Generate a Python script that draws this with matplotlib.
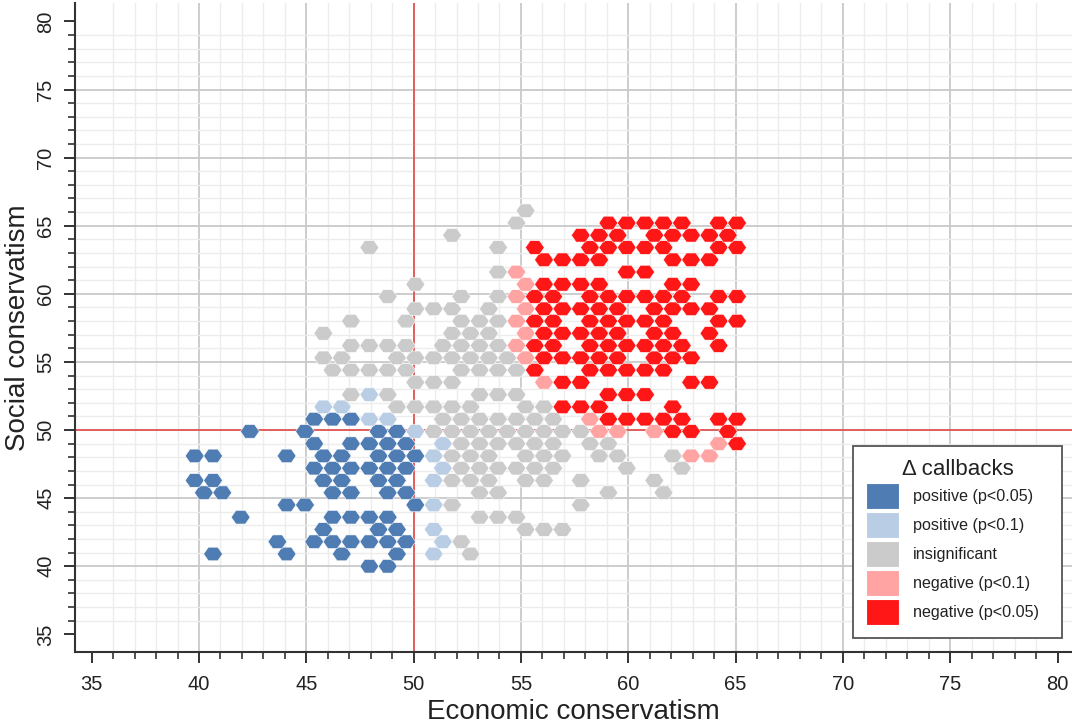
import matplotlib.pyplot as plt
from matplotlib.patches import Patch

plt.rcParams['font.family'] = ['Liberation Sans', 'DejaVu Sans']

# hex lattice: row k sits at y = y_first + k*row_step,
# column j at x = x_first + j*col_step (even rows shifted by half a step)
y_first = 40.0
row_step = 0.9
x_first = 39.80
col_step = 0.8566

# one string per row, bottom row first; B/L/G/P/R = category, '.' = empty
hex_rows = [
    ".........B" + "B........." + "..........",   # k=0
    ".B...B..B." + ".B.L.G...." + "..........",   # k=1
    "....B.BBBB" + "BB.LG....." + "..........",   # k=2
    ".......B.." + "BB.L....GG" + "G.........",   # k=3
    "..B....BBB" + "B....GGG.." + "..........",   # k=4
    ".....BB..." + "..BLG....." + ".G........",   # k=5
    "BB.....BB." + "BB...GG..." + "..G..G....",   # k=6
    "BB.....BB." + "BB.LGGG.GG" + ".G...G....",   # k=7
    "......BBBB" + "BB.LGGGGGG" + "...G..G...",   # k=8
    "BB...B.BB." + "BBBLGGG.GG" + "G.GG..GPP.",   # k=9
    "......B.BB" + "BB.LGGGGGG" + ".GG.....PR",   # k=10
    "...B..B..." + "BBLGGGGGGG" + "GGPP.PRR.R",   # k=11
    "......BBBL" + "L..GGGGGGG" + ".PRRRRR.RR",   # k=12
    ".......LL." + ".GGGGG..GG" + "RRR...R...",   # k=13
    "........GL" + "G....GGG.." + "..RRR.....",   # k=14
    ".........." + "..GGG....P" + "RR.....RR.",   # k=15
    ".......GGG" + "GG..GGGGR." + ".RRRRR....",   # k=16
    ".......GG." + ".GGGGGGGPR" + "RRRR.RRR..",   # k=17
    "........GG" + "GG.GGGGPRR" + ".RRRRRR.R.",   # k=18
    ".......G.." + "....GGG.PR" + "RRRR.RR.R.",   # k=19
    "........G." + ".G..GGGPRR" + ".RRRRR..RR",   # k=20
    ".........." + "..GGG.G.PR" + "RRRR.RRRR.",   # k=21
    ".........." + "G...G.GPRR" + ".RRRRRR.RR",   # k=22
    ".........." + "..G.....PR" + "RRR...RR..",   # k=23
    ".........." + "......GP.." + "...RR.....",   # k=24
    ".........." + ".........R" + "RRR...RRR.",   # k=25
    ".........G" + "......G.R." + ".RRRRR..RR",   # k=26
    ".........." + "....G....." + ".RRR.RRRRR",   # k=27
    ".........." + ".......G.." + "..RRRRR.RR",   # k=28
    ".........." + "........G." + "..........",   # k=29
]

cat_codes = ["B", "L", "G", "P", "R"]
cat_labels = ["positive (p<0.05)", "positive (p<0.1)", "insignificant",
              "negative (p<0.1)", "negative (p<0.05)"]
cat_colors = ["#4f7db3", "#b9cde4", "#cbcbcb", "#ffa3a3", "#ff1717"]

x_ticks = list(range(35, 81, 5))
y_ticks = list(range(35, 81, 5))


def main():
    xs, ys, cols = [], [], []
    for k, row in enumerate(hex_rows):
        shift = 0.5 if k % 2 == 0 else 0.0
        for j, ch in enumerate(row):
            if ch == ".":
                continue
            xs.append(x_first + (j + shift) * col_step)
            ys.append(y_first + k * row_step)
            cols.append(cat_colors[cat_codes.index(ch)])

    fig = plt.figure(figsize=(10.72, 7.24), dpi=100)
    ax = fig.add_axes([0.0697, 0.099, 0.930, 0.8968])

    ax.set_xlim(34.21, 80.66)
    ax.set_ylim(33.68, 81.35)
    ax.set_xticks(x_ticks)
    ax.set_yticks(y_ticks)
    ax.set_xticks(range(35, 81), minor=True)
    ax.set_yticks(range(35, 81), minor=True)

    ax.set_axisbelow(True)
    ax.grid(which="major", color="#c9c9c9", lw=1.3)
    ax.grid(which="minor", color="#ececec", lw=1.0)
    for gl in (ax.xaxis.get_gridlines()[0], ax.xaxis.get_gridlines()[-1],
               ax.yaxis.get_gridlines()[0], ax.yaxis.get_gridlines()[-1]):
        gl.set_visible(False)

    ax.axvline(50, color="#e8403f", lw=1.1, zorder=1.5)
    ax.axhline(50, color="#e8403f", lw=1.1, zorder=1.5)

    hex_marker = [(1, 0), (0.5, 0.72), (-0.5, 0.72), (-1, 0),
                  (-0.5, -0.72), (0.5, -0.72), (1, 0)]
    ax.scatter(xs, ys, marker=hex_marker, s=185, c=cols,
               edgecolors="white", linewidths=0.4, zorder=3)

    for side in ("top", "right"):
        ax.spines[side].set_visible(False)
    for side in ("left", "bottom"):
        ax.spines[side].set_color("#333333")
        ax.spines[side].set_linewidth(1.5)

    ax.tick_params(which="major", length=8, width=1.4, color="#333333",
                   labelsize=14.5, labelcolor="#222222")
    ax.tick_params(which="minor", length=4.7, width=1.2, color="#333333")
    ax.tick_params(axis="x", pad=8)
    ax.tick_params(axis="y", labelrotation=90, pad=6)
    for lab in ax.get_yticklabels():
        lab.set_va("center")

    ax.set_xlabel("Economic conservatism", fontsize=20, color="#222222",
                  labelpad=4)
    ax.set_ylabel("Social conservatism", fontsize=20, color="#222222",
                  labelpad=4)

    handles = [Patch(facecolor=c, edgecolor="white", lw=0.8) for c in cat_colors]
    leg = ax.legend(handles, cat_labels, title="Δ callbacks",
                    bbox_to_anchor=(0.796, 0.1188, 0.1944, 0),
                    bbox_transform=fig.transFigure, loc="lower left",
                    mode="expand", borderaxespad=0, fontsize=11.6,
                    title_fontsize=16, handlelength=2.05, handleheight=2.1,
                    labelspacing=0.19, handletextpad=0.83, borderpad=0.8,
                    fancybox=False, framealpha=1, edgecolor="#555555")
    leg.get_frame().set_linewidth(1.3)
    for t in leg.get_texts():
        t.set_color("#222222")
    leg.get_title().set_color("#222222")

    fig.savefig("out.png", dpi=100)


if __name__ == "__main__":
    main()
